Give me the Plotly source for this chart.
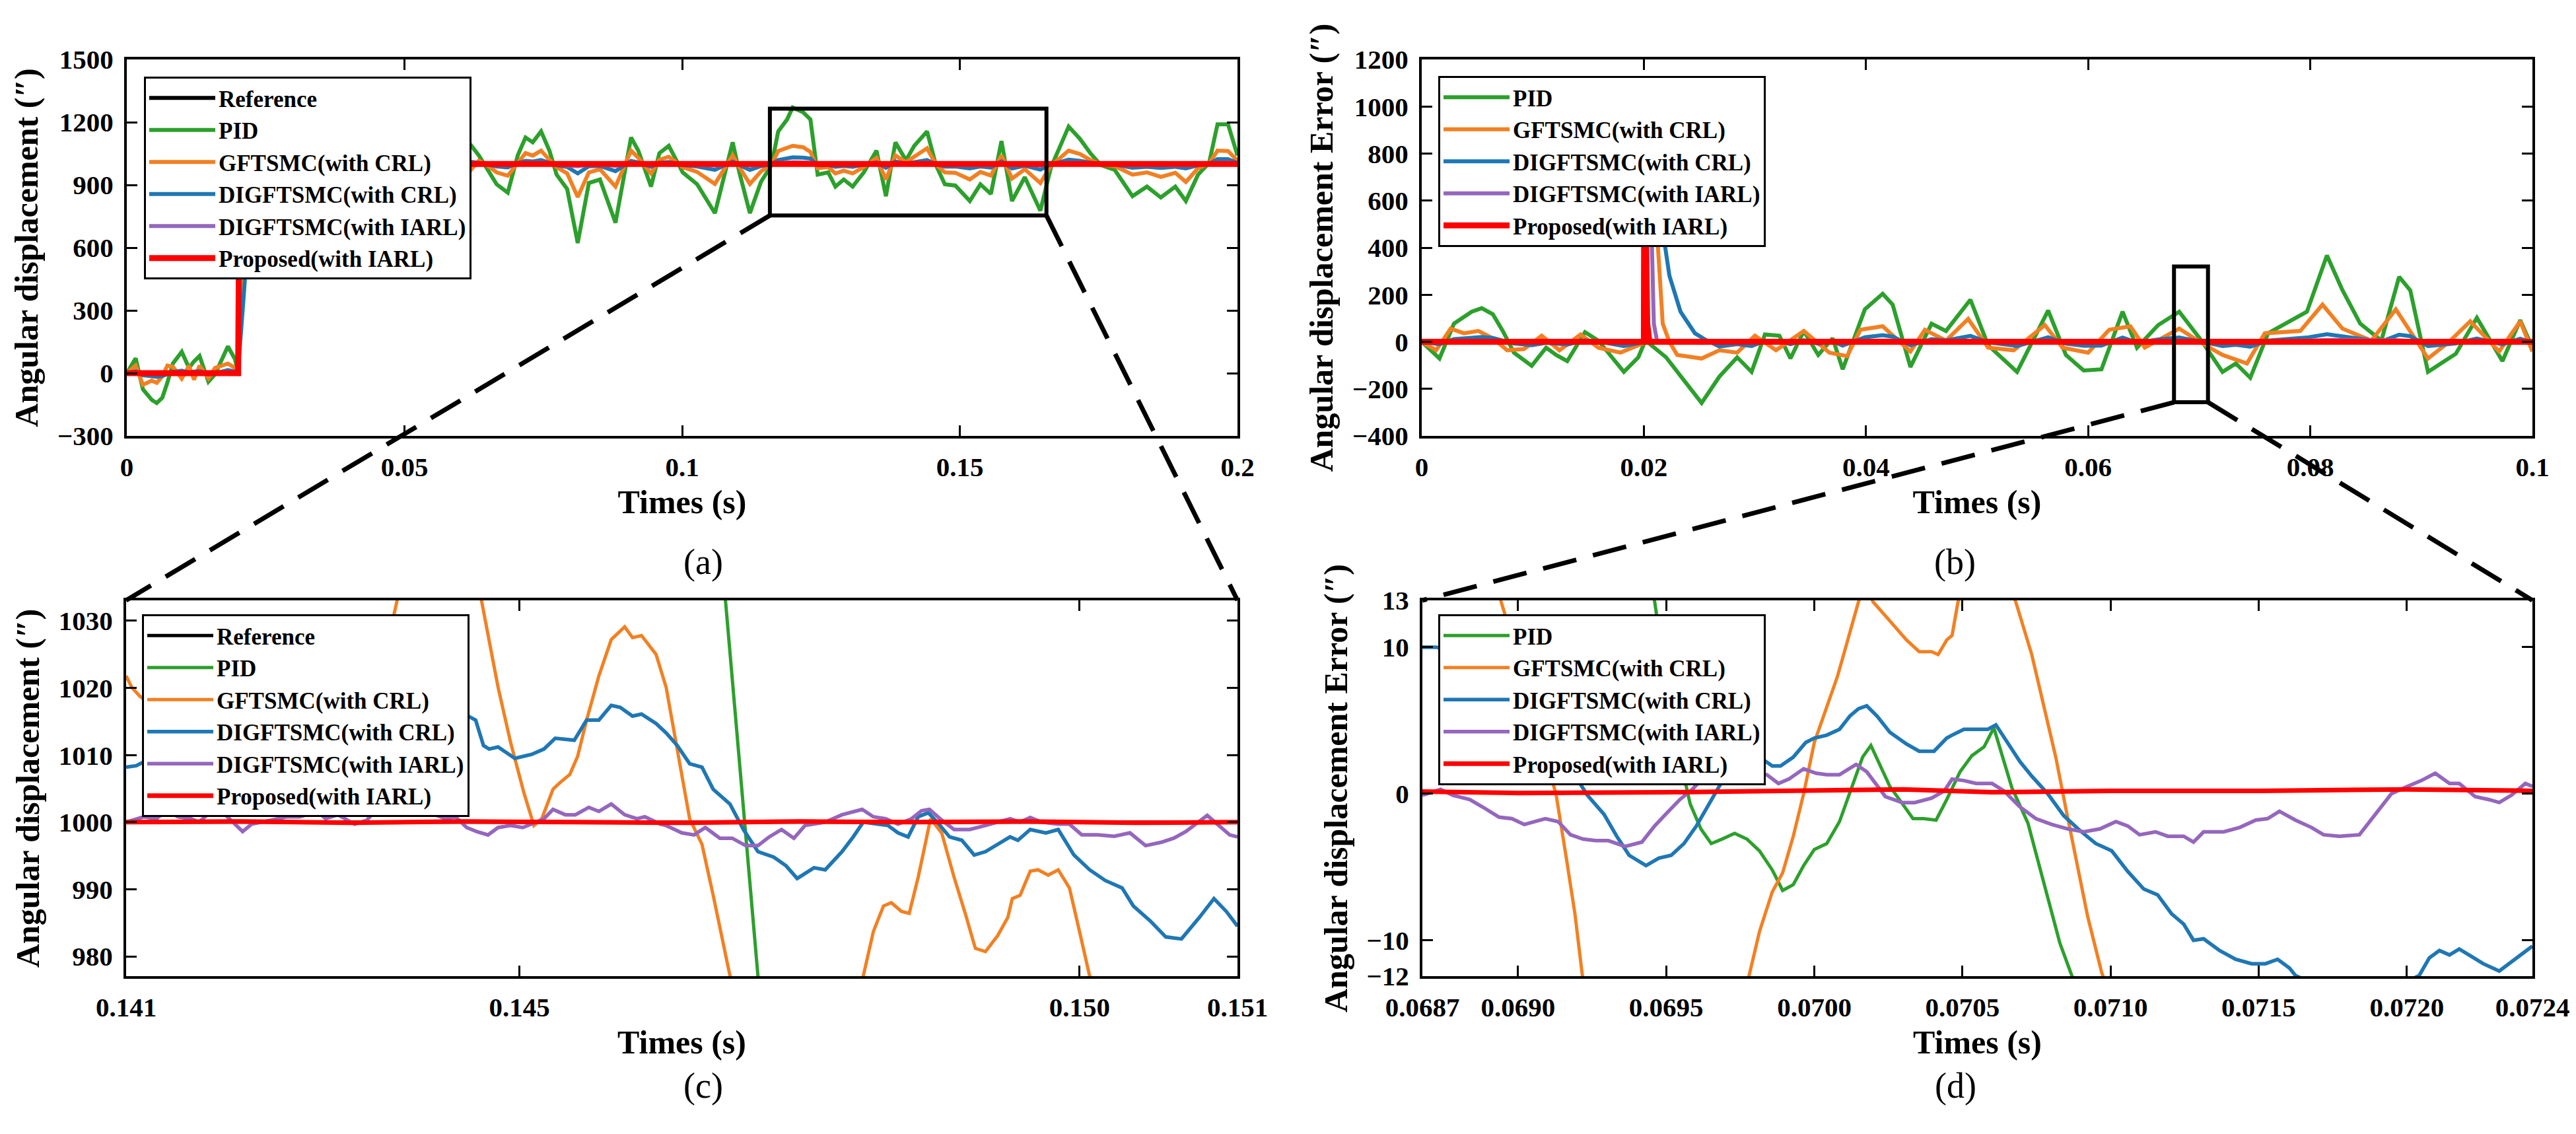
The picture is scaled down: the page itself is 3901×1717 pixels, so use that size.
import plotly.graph_objects as go

FONT = "Liberation Serif"
GREEN, ORANGE, BLUE, PURPLE, RED = "#2ca02c", "#f28022", "#1f77b4", "#9467bd", "#ff0000"
NAMES = ["Reference", "PID", "GFTSMC(with CRL)", "DIGFTSMC(with CRL)",
         "DIGFTSMC(with IARL)", "Proposed(with IARL)"]

# ---------------- (a) angular displacement, 0-0.2 s ----------------
A_T = [0.0000, 0.0016, 0.0029, 0.0045, 0.0054, 0.0064, 0.0073, 0.0083, 0.0099, 0.0112,
       0.0121, 0.0131, 0.0147, 0.0159, 0.0182, 0.0195, 0.0200, 0.0202, 0.0210, 0.0220,
       0.0252, 0.0268, 0.0284, 0.0297, 0.0309, 0.0322, 0.0332, 0.0344, 0.0357, 0.0370,
       0.0379, 0.0399, 0.0415, 0.0424, 0.0440, 0.0459, 0.0472, 0.0494, 0.0510, 0.0536,
       0.0564, 0.0580, 0.0596, 0.0612, 0.0634, 0.0651, 0.0666, 0.0686, 0.0704, 0.0718,
       0.0731, 0.0746, 0.0761, 0.0774, 0.0793, 0.0812, 0.0832, 0.0852, 0.0880, 0.0908,
       0.0921, 0.0944, 0.0959, 0.0976, 0.1001, 0.1027, 0.1059, 0.1091, 0.1103, 0.1122,
       0.1142, 0.1161, 0.1173, 0.1189, 0.1199, 0.1218, 0.1231, 0.1244, 0.1263, 0.1276,
       0.1291, 0.1307, 0.1327, 0.1350, 0.1367, 0.1384, 0.1403, 0.1418, 0.1441, 0.1457,
       0.1473, 0.1492, 0.1518, 0.1537, 0.1556, 0.1575, 0.1594, 0.1617, 0.1645, 0.1664,
       0.1696, 0.1716, 0.1735, 0.1754, 0.1779, 0.1811, 0.1837, 0.1862, 0.1888, 0.1907,
       0.1929, 0.1949, 0.1964, 0.1983, 0.2000]
A_PID = [0, 71, -77, -128, -143, -117, -46, 46, 102, 25,
         56, 82, -41, -5, 128, 66, 0, 900, 1040, 1066,
         1260, 1148, 1066, 1128, 969, 974, 1071, 954, 1056, 985,
         1117, 862, 796, 842, 1107, 923, 954, 821, 1015, 1128,
         867, 1056, 1122, 1117, 1041, 972, 903, 863, 1041, 1127,
         1104, 1156, 1064, 949, 880, 622, 909, 926, 719, 1127,
         1064, 892, 1052, 1087, 960, 903, 765, 1104, 960, 765,
         915, 995, 1156, 1213, 1270, 1247, 1213, 949, 960, 892,
         926, 892, 960, 1064, 846, 1104, 1018, 1087, 1156, 995,
         903, 897, 823, 903, 857, 1110, 823, 937, 777, 983,
         1179, 1121, 1052, 995, 972, 846, 892, 840, 892, 823,
         949, 1006, 1190, 1190, 1041]
A_GFT = [0, 36, -56, -36, -46, -15, 36, 31, -26, 36,
         -31, 36, -25, 25, 46, 25, 0, 150, 500, 960,
         1071, 1036, 1046, 974, 1036, 990, 1030, 954, 1046, 1061,
         1061, 949, 934, 960, 1041, 949, 995, 903, 1025, 1036,
         929, 1025, 1046, 949, 1016, 990, 960, 944, 1005, 1052,
         1040, 1064, 1020, 985, 955, 842, 960, 975, 892, 1064,
         1030, 955, 1020, 1035, 985, 962, 905, 1041, 985, 905,
         965, 998, 1062, 1075, 1087, 1080, 1058, 980, 985, 955,
         968, 955, 985, 1029, 926, 1041, 1008, 1035, 1075, 998,
         960, 958, 926, 962, 945, 1041, 930, 975, 909, 992,
         1064, 1048, 1020, 998, 990, 949, 960, 938, 958, 914,
         980, 1002, 1064, 1062, 1016]
A_DIG = [0, 9, -10, -15, -17, -14, -6, 6, 12, 3,
         7, 10, -5, -1, 15, 8, 0, 80, 350, 720,
         980, 1000, 1008, 1015, 996, 997, 1009, 994, 1007, 998,
         1014, 983, 976, 981, 1013, 991, 994, 979, 1002, 1015,
         984, 1007, 1015, 1014, 1005, 997, 988, 984, 1005, 1015,
         1012, 1019, 1008, 994, 986, 955, 989, 991, 966, 1015,
         1008, 987, 1006, 1010, 995, 988, 972, 1012, 995, 972,
         990, 999, 1019, 1026, 1032, 1030, 1026, 994, 995, 987,
         991, 987, 995, 1008, 982, 1012, 1002, 1010, 1019, 999,
         988, 988, 979, 988, 983, 1013, 979, 992, 973, 998,
         1021, 1015, 1006, 999, 997, 982, 987, 981, 987, 979,
         994, 1001, 1023, 1023, 1005]
A_IARL = [0, 2, -2, -4, -4, -3, -1, 1, 3, 1,
          2, 2, -1, 0, 4, 2, 0, 400, 960, 1000,
          1006, 1004, 1002, 1003, 999, 999, 1002, 999, 1002, 1000,
          1003, 996, 994, 995, 1003, 998, 999, 995, 1000, 1004,
          996, 1002, 1004, 1003, 1001, 999, 997, 996, 1001, 1004,
          1003, 1005, 1002, 999, 997, 989, 997, 998, 992, 1004,
          1002, 997, 1002, 1003, 999, 997, 993, 1003, 999, 993,
          997, 1000, 1005, 1006, 1008, 1007, 1006, 998, 999, 997,
          998, 997, 999, 1002, 995, 1003, 1000, 1003, 1005, 1000,
          997, 997, 995, 997, 996, 1003, 995, 998, 993, 999,
          1005, 1004, 1002, 1000, 999, 995, 997, 995, 997, 995,
          998, 1000, 1006, 1006, 1001]
A_REF_T = [0.0, 0.02, 0.02, 0.2]
A_REF = [0, 0, 1000, 1000]
A_PROP_T = [0.0, 0.02005, 0.0203, 0.2]
A_PROP = [0, 0, 1000, 1000]

# ---------------- (b) angular displacement error, 0-0.1 s ----------------
B_PID_T = [0.0000, 0.0016, 0.0029, 0.0045, 0.0054, 0.0064, 0.0073, 0.0083, 0.0099, 0.0112,
           0.0121, 0.0131, 0.0147, 0.0159, 0.0182, 0.0195, 0.0200, 0.02005, 0.0203, 0.0220,
           0.0252, 0.0268, 0.0284, 0.0297, 0.0309, 0.0322, 0.0332, 0.0344, 0.0357, 0.0370,
           0.0379, 0.0399, 0.0415, 0.0424, 0.0440, 0.0459, 0.0472, 0.0494, 0.0510, 0.0536,
           0.0564, 0.0580, 0.0596, 0.0612, 0.0631, 0.0644, 0.0663, 0.0682, 0.0702, 0.0721,
           0.0733, 0.0746, 0.0762, 0.0797, 0.0815, 0.0829, 0.0845, 0.0864, 0.0880, 0.0890,
           0.0906, 0.0931, 0.0950, 0.0973, 0.0989, 0.1000]
B_PID = [0, -71, 77, 128, 143, 117, 46, -46, -102, -25,
         -56, -82, 41, 5, -128, -66, -10, 1000, 0, -66,
         -260, -148, -66, -128, 31, 26, -71, 46, -56, 15,
         -117, 138, 204, 158, -107, 77, 46, 179, -15, -128,
         133, -56, -122, -117, 128, -25, 71, 128, 5, -128,
         -92, -153, 36, 128, 367, 219, 77, 5, 276, 219,
         -128, -51, 102, -82, 92, -25]
B_GFT_T = [0.0000, 0.0013, 0.0026, 0.0038, 0.0051, 0.0064, 0.0077, 0.0092, 0.0108, 0.0124,
           0.0143, 0.0159, 0.0179, 0.0191, 0.0200, 0.02005, 0.0212, 0.0217, 0.0223, 0.0230,
           0.0252, 0.0268, 0.0284, 0.0300, 0.0319, 0.0344, 0.0367, 0.0383, 0.0395, 0.0415,
           0.0440, 0.0453, 0.0472, 0.0492, 0.0510, 0.0533, 0.0561, 0.0577, 0.0600, 0.0619,
           0.0638, 0.0651, 0.0670, 0.0682, 0.0702, 0.0721, 0.0743, 0.0759, 0.0791, 0.0811,
           0.0829, 0.0855, 0.0877, 0.0890, 0.0906, 0.0925, 0.0944, 0.0970, 0.0989, 0.1000]
B_GFT = [0, -36, 56, 36, 46, 15, -36, -31, 26, -36,
         31, -25, -46, -25, -5, 1000, 455, 77, 0, -56,
         -71, -36, -46, 26, -36, 46, -46, -61, 51, 66,
         -41, 51, 5, 97, -25, -36, 71, -25, -46, 51,
         66, -25, 26, 56, -5, -56, -92, 36, 46, 158,
         56, 5, 138, 46, -71, 0, 87, -41, 87, -41]
B_DIG_T = [0.0000, 0.0016, 0.0029, 0.0045, 0.0054, 0.0064, 0.0073, 0.0083, 0.0099, 0.0112,
           0.0121, 0.0131, 0.0147, 0.0159, 0.0182, 0.0195, 0.0200, 0.02005, 0.0217, 0.0223,
           0.0233, 0.0246, 0.0255, 0.0268, 0.0284, 0.0297, 0.0309, 0.0322, 0.0332, 0.0344,
           0.0357, 0.0370, 0.0379, 0.0399, 0.0415, 0.0424, 0.0440, 0.0459, 0.0472, 0.0494,
           0.0510, 0.0536, 0.0564, 0.0580, 0.0596, 0.0612, 0.0631, 0.0644, 0.0663, 0.0682,
           0.0702, 0.0721, 0.0733, 0.0746, 0.0762, 0.0797, 0.0815, 0.0829, 0.0845, 0.0864,
           0.0880, 0.0890, 0.0906, 0.0931, 0.0950, 0.0973, 0.0989, 0.1000]
B_DIG = [0, -10, 11, 18, 20, 16, 6, -7, -15, -4,
         -8, -12, 6, 1, -18, -9, -2, 1000, 455, 281,
         128, 36, 10, -20, -10, -18, 4, 4, -10, 7,
         -8, 2, -16, 19, 28, 22, -15, 11, 6, 25,
         -2, -18, 19, -8, -17, -16, 18, -4, 10, 18,
         1, -18, -13, -21, 5, 18, 32, 24, 11, 1,
         30, 24, -18, -7, 14, -11, 13, -4]
B_IARL_T = [0.0, 0.0045, 0.0054, 0.0099, 0.0182, 0.0200, 0.02005, 0.0207, 0.0209, 0.0212,
            0.0252, 0.0415, 0.0494, 0.0536, 0.0631, 0.0682, 0.0746, 0.0815, 0.0880, 0.0906, 0.1000]
B_IARL = [0, 4, 4, -3, -4, 0, 1000, 455, 77, 0, -5, 5, 4, -3, 3, 3, -4, 8, 6, -3, 0]
B_PROP_T = [0.0, 0.0200, 0.02005, 0.0203, 0.0205, 0.1000]
B_PROP = [0, 0, 1000, 80, 0, 0]

# ---------------- (c) zoom of (a) ----------------
C_REF_T = [0.14149, 0.15141]
C_REF = [1000, 1000]
C_PID_T = [0.14149, 0.1455, 0.14684, 0.14713, 0.1476, 0.15141]
C_PID = [1080, 1110, 1033, 977, 890, 880]
C_GFT_T = [0.14149, 0.14154, 0.14161, 0.1420, 0.1428, 0.1434, 0.14381, 0.14391, 0.1442, 0.1445,
           0.14466, 0.14481, 0.14492, 0.14504, 0.14513, 0.14520, 0.14530, 0.14537, 0.14545, 0.14552,
           0.14560, 0.14571, 0.14582, 0.14594, 0.14601, 0.14609, 0.14622, 0.14631, 0.14641, 0.14652,
           0.14663, 0.14673, 0.14688, 0.1472, 0.1478, 0.14807, 0.14816, 0.14825, 0.14832, 0.14841,
           0.14848, 0.14856, 0.14863, 0.14867, 0.14877, 0.14888, 0.14898, 0.14907, 0.14916, 0.14927,
           0.14936, 0.14940, 0.14947, 0.14956, 0.14963, 0.14972, 0.14981, 0.14991, 0.15000, 0.15009,
           0.1505, 0.15141]
C_GFT = [1021.8, 1020.1, 1018.8, 1014.0, 1012.0, 1021.0, 1025.6, 1033.2, 1055.0, 1050.0,
         1033.2, 1020.1, 1012.0, 1004.4, 999.5, 1000.5, 1004.9, 1006.0, 1007.1, 1009.8,
         1015.2, 1021.8, 1027.2, 1029.1, 1027.5, 1027.8, 1025.0, 1020.1, 1010.9, 1000.5,
         996.7, 989.1, 977.1, 965.0, 962.0, 977.1, 983.7, 987.5, 988.0, 986.7,
         986.4, 991.8, 997.3, 1000.5, 998.4, 991.8, 986.4, 981.2, 980.7, 983.1,
         985.8, 988.6, 989.1, 992.7, 992.9, 992.1, 992.9, 990.2, 983.7, 977.1,
         966.0, 960.0]
C_DIG_T = [0.14149, 0.14158, 0.14165, 0.1422, 0.1430, 0.1438, 0.1443, 0.14461, 0.14468, 0.14473,
           0.14481, 0.14496, 0.14511, 0.14522, 0.14532, 0.14549, 0.14560, 0.14571, 0.14582, 0.14590,
           0.14601, 0.14609, 0.14622, 0.14631, 0.14641, 0.14652, 0.14663, 0.14673, 0.14688, 0.14700,
           0.14713, 0.14727, 0.14738, 0.14748, 0.14763, 0.14773, 0.14788, 0.14798, 0.14807, 0.14820,
           0.14829, 0.14838, 0.14847, 0.14856, 0.14865, 0.14873, 0.14884, 0.14895, 0.14906, 0.14916,
           0.14927, 0.14938, 0.14945, 0.14956, 0.14970, 0.14981, 0.14995, 0.15009, 0.15023, 0.15038,
           0.15048, 0.15063, 0.15077, 0.15091, 0.15107, 0.15120, 0.15131, 0.15141]
C_DIG = [1008.2, 1008.4, 1009.0, 1011.0, 1014.0, 1017.0, 1018.0, 1015.2, 1011.4, 1010.9,
         1011.2, 1009.5, 1010.1, 1010.9, 1012.5, 1012.2, 1015.2, 1015.2, 1017.4, 1017.1,
         1015.8, 1016.1, 1014.7, 1013.3, 1011.4, 1008.7, 1008.2, 1004.9, 1002.7, 998.9,
         995.6, 994.8, 993.5, 991.6, 993.2, 992.9, 995.6, 997.8, 1000.0, 999.7,
         999.5, 998.4, 997.8, 1000.8, 1001.4, 1000.0, 997.8, 997.3, 995.1, 995.6,
         996.7, 997.8, 997.3, 998.9, 998.4, 998.9, 995.1, 992.9, 991.3, 990.2,
         987.5, 985.3, 982.9, 982.6, 985.8, 988.6, 986.7, 984.5]
C_IARL_T = [0.14149, 0.14158, 0.14165, 0.14176, 0.14186, 0.14195, 0.14207, 0.14214, 0.14225, 0.14235,
            0.14244, 0.14253, 0.14261, 0.14270, 0.14282, 0.14293, 0.14304, 0.14320, 0.14327, 0.14338,
            0.14353, 0.14364, 0.14376, 0.14390, 0.14410, 0.14417, 0.14425, 0.14434, 0.14443, 0.14453,
            0.14462, 0.14472, 0.14481, 0.14492, 0.14503, 0.14515, 0.14522, 0.14530, 0.14541, 0.14550,
            0.14562, 0.14571, 0.14582, 0.14594, 0.14605, 0.14612, 0.14626, 0.14631, 0.14645, 0.14656,
            0.14666, 0.14679, 0.14690, 0.14702, 0.14713, 0.14723, 0.14734, 0.14745, 0.14755, 0.14773,
            0.14788, 0.14806, 0.14816, 0.14827, 0.14838, 0.14850, 0.14859, 0.14866, 0.14877, 0.14888,
            0.14902, 0.14916, 0.14927, 0.14938, 0.14947, 0.14956, 0.14966, 0.14981, 0.14991, 0.15002,
            0.15016, 0.15031, 0.15045, 0.15059, 0.15073, 0.15084, 0.15095, 0.15106, 0.15114, 0.15123,
            0.15134, 0.15141]
C_IARL = [1000.0, 1000.5, 1000.8, 1000.5, 1001.9, 1000.8, 1000.5, 1000.0, 1001.6, 1001.5,
          1000.0, 998.6, 999.7, 1000.0, 1000.5, 1000.8, 1000.8, 1001.6, 1000.5, 1001.1,
          999.7, 1000.3, 1002.7, 1004.0, 1004.0, 1002.7, 1001.1, 1000.5, 1000.8, 999.2,
          998.6, 998.1, 999.2, 999.5, 999.2, 1000.0, 1000.5, 1001.9, 1001.1, 1001.1,
          1002.2, 1001.6, 1002.7, 1001.1, 1000.5, 1000.8, 999.7, 999.5, 998.4, 998.1,
          999.2, 997.6, 997.6, 996.5, 996.5, 997.8, 998.9, 997.6, 999.5, 1000.0,
          1001.1, 1001.9, 1000.8, 1000.5, 999.7, 1000.5, 1001.7, 1001.9, 1000.3, 998.9,
          998.9, 999.5, 1000.0, 1000.5, 1000.0, 1000.7, 1000.0, 999.7, 999.7, 998.1,
          998.1, 997.9, 998.4, 996.5, 997.0, 997.6, 998.6, 1000.0, 1001.0, 999.7,
          998.1, 997.8]
C_PROP_T = [0.14149, 0.1425, 0.1435, 0.1445, 0.1455, 0.1465, 0.1475, 0.1485, 0.1495, 0.1505, 0.15141]
C_PROP = [1000.0, 1000.1, 999.9, 1000.1, 1000.0, 999.9, 1000.1, 1000.0, 1000.1, 999.9, 1000.0]

# ---------------- (d) zoom of (b) ----------------
D_PID_T = [0.068677, 0.0690, 0.0693, 0.069461, 0.069489, 0.069517, 0.069553, 0.069581, 0.069617, 0.069652,
           0.069688, 0.069731, 0.069773, 0.069815, 0.069858, 0.069893, 0.069929, 0.069964, 0.070000, 0.070042,
           0.070085, 0.070127, 0.070163, 0.070191, 0.070220, 0.070255, 0.070298, 0.070333, 0.070369, 0.070411,
           0.070447, 0.070492, 0.070532, 0.070573, 0.070606, 0.070633, 0.070667, 0.070721, 0.070775, 0.070829,
           0.070869, 0.0711, 0.0716, 0.072424]
D_PID = [110, 75, 35, 13.1, 9.3, 5.5, 1.8, -0.7, -2.4, -3.4,
         -3.1, -2.7, -3.1, -3.9, -5.2, -6.6, -6.2, -4.9, -3.8, -3.4,
         -1.9, 0.5, 2.5, 3.3, 2.0, 0.5, -0.7, -1.7, -1.7, -1.8,
         -0.4, 1.5, 2.6, 3.2, 4.5, 2.7, 0.4, -2.0, -6.2, -10.2,
         -12.4, -25, -60, -100]
D_GFT_T = [0.068677, 0.068943, 0.069007, 0.069064, 0.069106, 0.069128, 0.069163, 0.069192, 0.069217, 0.0695,
           0.069780, 0.069815, 0.069858, 0.069893, 0.069929, 0.069964, 0.070000, 0.070042, 0.070078, 0.070113,
           0.070149, 0.070175, 0.070198, 0.070255, 0.070311, 0.070354, 0.070396, 0.070418, 0.070447, 0.070465,
           0.070485, 0.07058, 0.07068, 0.070734, 0.070775, 0.070815, 0.070849, 0.070883, 0.070923, 0.070970,
           0.0712, 0.072424]
D_GFT = [35, 13.1, 8.8, 5.0, 1.5, 0.0, -4.4, -8.2, -12.4, -28,
         -12.4, -9.4, -6.7, -5.4, -2.9, 0.0, 3.5, 6.0, 8.0, 10.5,
         13.1, 14.5, 13.1, 11.8, 10.5, 9.7, 9.7, 9.5, 10.5, 10.8,
         13.1, 18, 13.1, 9.5, 6.0, 2.5, -1.0, -4.5, -8.4, -12.2,
         -25, -40]
D_DIG_T = [0.068677, 0.068725, 0.0688, 0.06895, 0.06910, 0.069184, 0.069234, 0.069290, 0.069333, 0.069375,
           0.069432, 0.069475, 0.069517, 0.069560, 0.069602, 0.069645, 0.069687, 0.069730, 0.069773, 0.069815,
           0.069858, 0.069886, 0.069929, 0.069971, 0.070000, 0.070042, 0.070085, 0.070120, 0.070149, 0.070177,
           0.070212, 0.070255, 0.070311, 0.070354, 0.070404, 0.070447, 0.070465, 0.070505, 0.070546, 0.070586,
           0.070613, 0.070653, 0.070694, 0.070734, 0.070788, 0.070842, 0.070896, 0.070950, 0.071004, 0.071058,
           0.071112, 0.071159, 0.071206, 0.071247, 0.071280, 0.071314, 0.071368, 0.071422, 0.071476, 0.071523,
           0.071564, 0.071604, 0.071624, 0.071840, 0.072042, 0.072076, 0.072110, 0.072144, 0.072177, 0.072218,
           0.072258, 0.072312, 0.072353, 0.072424]
D_DIG = [10.0, 10.0, 9.5, 6.5, 3.0, 1.5, -0.1, -1.4, -2.9, -4.2,
         -4.9, -4.4, -4.2, -3.4, -2.2, -0.7, 0.8, 2.3, 3.0, 2.5,
         1.9, 1.9, 2.5, 3.5, 3.8, 4.0, 4.4, 5.3, 5.8, 6.0,
         5.3, 4.2, 3.4, 2.9, 2.9, 3.8, 4.0, 4.4, 4.4, 4.4,
         4.7, 3.5, 2.2, 1.2, 0.0, -1.5, -2.5, -3.4, -3.9, -5.3,
         -6.5, -6.9, -8.2, -8.9, -10.0, -9.9, -10.7, -11.3, -11.6, -11.6,
         -11.3, -11.9, -12.4, -14.5, -12.4, -11.2, -10.7, -11.0, -10.6, -11.1,
         -11.6, -12.1, -11.5, -10.4]
D_IARL_T = [0.068677, 0.068738, 0.068780, 0.068837, 0.068880, 0.068936, 0.068979, 0.069021, 0.069057, 0.069092,
            0.069135, 0.069177, 0.069220, 0.069262, 0.069305, 0.069361, 0.069418, 0.069461, 0.069503, 0.069546,
            0.069588, 0.069631, 0.069673, 0.069750, 0.069840, 0.069879, 0.069914, 0.069964, 0.070006, 0.070042,
            0.070085, 0.070141, 0.070177, 0.070205, 0.070240, 0.070297, 0.070339, 0.070396, 0.070439, 0.070465,
            0.070505, 0.070546, 0.070600, 0.070640, 0.070694, 0.070748, 0.070802, 0.070856, 0.070910, 0.070964,
            0.071018, 0.071058, 0.071098, 0.071152, 0.071193, 0.071247, 0.071280, 0.071314, 0.071382, 0.071436,
            0.071490, 0.071530, 0.071570, 0.071624, 0.071678, 0.071719, 0.071773, 0.071840, 0.071894, 0.071948,
            0.072002, 0.072049, 0.072096, 0.072144, 0.072177, 0.072231, 0.072278, 0.072312, 0.072353, 0.072400,
            0.072424]
D_IARL = [-0.1, 0.3, -0.1, -0.4, -0.9, -1.6, -1.7, -2.1, -1.9, -1.7,
          -1.9, -2.8, -3.1, -3.2, -3.2, -3.6, -3.3, -2.2, -1.3, -0.4,
          0.3, 1.2, 1.7, 1.6, 1.3, 0.7, 1.0, 1.7, 1.4, 1.3,
          1.3, 2.0, 1.5, 0.7, -0.2, -0.6, -0.6, -0.3, 0.2, 1.0,
          0.9, 0.7, 0.7, 0.2, -0.9, -1.7, -2.1, -2.4, -2.6, -2.4,
          -1.9, -2.2, -2.8, -2.6, -2.9, -2.9, -3.3, -2.6, -2.6, -2.3,
          -1.8, -1.7, -1.2, -1.8, -2.3, -2.8, -2.9, -2.8, -1.4, 0.0,
          0.5, 0.9, 1.4, 0.7, 0.7, -0.2, -0.4, -0.6, -0.1, 0.7,
          0.5]
D_PROP_T = [0.068677, 0.0690, 0.0695, 0.0700, 0.0703, 0.0706, 0.0710, 0.0715, 0.0720, 0.072424]
D_PROP = [0.15, 0.05, 0.1, 0.2, 0.3, 0.1, 0.2, 0.2, 0.3, 0.2]

# ---------------- layout geometry ----------------
W, H = 3901, 1717
XA = [184 / W, 1866 / W]
XB = [2145 / W, 3827 / W]
XC = [183 / W, 1866 / W]
XD = [2146 / W, 3827 / W]
YTOP = [1 - 652 / H, 1 - 82 / H]
YBOT = [1 - 1470 / H, 1 - 901 / H]

RA_X, RA_Y = [0, 0.2], [-300, 1500]
RB_X, RB_Y = [0, 0.1], [-400, 1200]
RC_X, RC_Y = [0.14149, 0.15141], [977.05, 1033.05]
RD_X, RD_Y = [0.068677, 0.072424], [-12.45, 13.2]

# zoom windows marked in (a) and (b)
BOX_A = dict(x0=0.1158, x1=0.1656, y0=754, y1=1265)
BOX_B = dict(x0=0.06773, x1=0.07079, y0=-257, y1=320)

fig = go.Figure()


def add(x, y, name, color, width, xa, ya, leg):
    fig.add_trace(go.Scatter(x=x, y=y, name=name, mode="lines",
                             line=dict(color=color, width=width),
                             xaxis=xa, yaxis=ya, legend=leg))


# (a)
add(A_REF_T, A_REF, NAMES[0], "black", 6, "x", "y", "legend")
add(A_T, A_PID, NAMES[1], GREEN, 6, "x", "y", "legend")
add(A_T, A_GFT, NAMES[2], ORANGE, 6, "x", "y", "legend")
add(A_T, A_DIG, NAMES[3], BLUE, 6, "x", "y", "legend")
add(A_T, A_IARL, NAMES[4], PURPLE, 6, "x", "y", "legend")
add(A_PROP_T, A_PROP, NAMES[5], RED, 9, "x", "y", "legend")
# (b)
add(B_PID_T, B_PID, NAMES[1], GREEN, 6, "x2", "y2", "legend2")
add(B_GFT_T, B_GFT, NAMES[2], ORANGE, 6, "x2", "y2", "legend2")
add(B_DIG_T, B_DIG, NAMES[3], BLUE, 6, "x2", "y2", "legend2")
add(B_IARL_T, B_IARL, NAMES[4], PURPLE, 6, "x2", "y2", "legend2")
add(B_PROP_T, B_PROP, NAMES[5], RED, 9, "x2", "y2", "legend2")
# (c)
add(C_REF_T, C_REF, NAMES[0], "black", 5, "x3", "y3", "legend3")
add(C_PID_T, C_PID, NAMES[1], GREEN, 5, "x3", "y3", "legend3")
add(C_GFT_T, C_GFT, NAMES[2], ORANGE, 5, "x3", "y3", "legend3")
add(C_DIG_T, C_DIG, NAMES[3], BLUE, 5.5, "x3", "y3", "legend3")
add(C_IARL_T, C_IARL, NAMES[4], PURPLE, 5.5, "x3", "y3", "legend3")
add(C_PROP_T, C_PROP, NAMES[5], RED, 7, "x3", "y3", "legend3")
# (d)
add(D_PID_T, D_PID, NAMES[1], GREEN, 5, "x4", "y4", "legend4")
add(D_GFT_T, D_GFT, NAMES[2], ORANGE, 5, "x4", "y4", "legend4")
add(D_DIG_T, D_DIG, NAMES[3], BLUE, 5.5, "x4", "y4", "legend4")
add(D_IARL_T, D_IARL, NAMES[4], PURPLE, 5.5, "x4", "y4", "legend4")
add(D_PROP_T, D_PROP, NAMES[5], RED, 7, "x4", "y4", "legend4")

tickfont = dict(family=FONT, size=41, color="black", weight="bold")
titlefont = dict(family=FONT, size=50, color="black", weight="bold")


def axis(domain, rng, anchor, title, **kw):
    d = dict(domain=domain, range=rng, anchor=anchor, showgrid=False, zeroline=False,
             showline=True, linecolor="black", linewidth=4, mirror="ticks",
             ticks="inside", ticklen=16, tickwidth=3, tickcolor="black",
             tickfont=tickfont, ticklabelstandoff=8, automargin=False,
             title=dict(text=title, font=titlefont, standoff=14))
    d.update(kw)
    return d


fig.update_layout(
    width=W, height=H, margin=dict(l=0, r=0, t=0, b=0, autoexpand=False),
    paper_bgcolor="white", plot_bgcolor="white",
    xaxis=axis(XA, RA_X, "y", "Times (s)", tickvals=[0, 0.05, 0.1, 0.15, 0.2],
               ticktext=["0", "0.05", "0.1", "0.15", "0.2"]),
    yaxis=axis(YTOP, RA_Y, "x", "Angular displacement (″)", dtick=300),
    xaxis2=axis(XB, RB_X, "y2", "Times (s)", tickvals=[0, 0.02, 0.04, 0.06, 0.08, 0.1],
                ticktext=["0", "0.02", "0.04", "0.06", "0.08", "0.1"]),
    yaxis2=axis(YTOP, RB_Y, "x2", "Angular displacement Error (″)", dtick=200),
    xaxis3=axis(XC, RC_X, "y3", "Times (s)", tickvals=[0.14149, 0.145, 0.150, 0.15141],
                ticktext=["0.141", "0.145", "0.150", "0.151"]),
    yaxis3=axis(YBOT, RC_Y, "x3", "Angular displacement (″)",
                tickvals=[980, 990, 1000, 1010, 1020, 1030]),
    xaxis4=axis(XD, RD_X, "y4", "Times (s)",
                tickvals=[0.068677, 0.069, 0.0695, 0.070, 0.0705, 0.071, 0.0715, 0.072, 0.072424],
                ticktext=["0.0687", "0.0690", "0.0695", "0.0700", "0.0705", "0.0710",
                          "0.0715", "0.0720", "0.0724"]),
    yaxis4=axis(YBOT, RD_Y, "x4", "Angular displacement Error (″)",
                tickvals=[-12.45, -10, 0, 10, 13.2], ticktext=["−12", "−10", "0", "10", "13"]),
    showlegend=True,
)

legfont = dict(family=FONT, size=35, color="black", weight="bold")
for key, lx, ly in [("legend", 210, 108), ("legend2", 2170, 107),
                    ("legend3", 207, 922), ("legend4", 2170, 922)]:
    fig.update_layout({key: dict(x=lx / W, y=1 - ly / H, xanchor="left", yanchor="top",
                                 bgcolor="white", bordercolor="black", borderwidth=3,
                                 font=legfont, itemwidth=100, tracegroupgap=0)})


def to_paper(xd, yd, xr, yr, x, y):
    px = xd[0] + (x - xr[0]) / (xr[1] - xr[0]) * (xd[1] - xd[0])
    py = yd[0] + (y - yr[0]) / (yr[1] - yr[0]) * (yd[1] - yd[0])
    return px, py


shapes = [
    dict(type="rect", xref="x", yref="y", line=dict(color="black", width=6), **BOX_A),
    dict(type="rect", xref="x2", yref="y2", line=dict(color="black", width=6), **BOX_B),
]
dash = dict(color="black", width=7, dash="52px,26px")
ax0, ay0 = to_paper(XA, YTOP, RA_X, RA_Y, BOX_A["x0"], BOX_A["y0"])
ax1, _ = to_paper(XA, YTOP, RA_X, RA_Y, BOX_A["x1"], BOX_A["y0"])
bx0, by0 = to_paper(XB, YTOP, RB_X, RB_Y, BOX_B["x0"], BOX_B["y0"])
bx1, _ = to_paper(XB, YTOP, RB_X, RB_Y, BOX_B["x1"], BOX_B["y0"])
for x0, y0, x1, y1 in [(ax0, ay0, XC[0], YBOT[1]), (ax1, ay0, XC[1], YBOT[1]),
                       (bx0, by0, XD[0], YBOT[1]), (bx1, by0, XD[1], YBOT[1])]:
    shapes.append(dict(type="line", xref="paper", yref="paper",
                       x0=x0, y0=y0, x1=x1, y1=y1, line=dash))
fig.update_layout(shapes=shapes)

for label, x, y in [("(a)", sum(XA) / 2, 1 - 843 / H), ("(b)", sum(XB) / 2, 1 - 843 / H),
                    ("(c)", sum(XC) / 2, 1 - 1668 / H), ("(d)", sum(XD) / 2, 1 - 1668 / H)]:
    fig.add_annotation(text=label, x=x, y=y, xref="paper", yref="paper", showarrow=False,
                       font=dict(family=FONT, size=54, color="black"))

fig.write_html("out.html")
